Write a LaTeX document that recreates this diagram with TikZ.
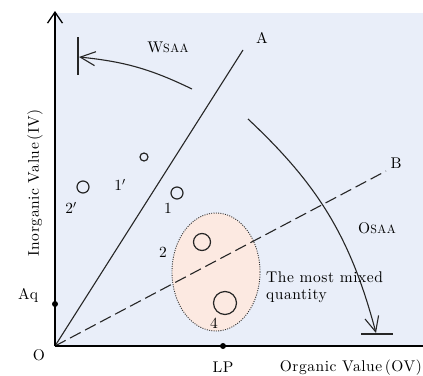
\documentclass[tikz,border=0pt]{standalone}
\usepackage{fontspec}
\usetikzlibrary{arrows.meta,shapes.geometric}
\definecolor{plotbg}{HTML}{E9EEF9}
\definecolor{mixfill}{HTML}{FCE9E1}
\newfontfamily\labelfont{lmroman10-regular.otf}[LetterSpace=3.5]
\begin{document}
\begin{tikzpicture}[x=1pt,y=-1pt]
    \useasboundingbox (0,0) rectangle (423,375);
    \clip (0,0) rectangle (423,375);

    % Stijlen
    \tikzset{
        lbl/.style={font=\labelfont\fontsize{15.5}{17}\selectfont, inner sep=0pt},
        axis/.style={line width=1.8pt, -{Straight Barb[length=11pt,width=15pt,line width=1.3pt]}},
        ray/.style={line width=1.1pt, black!85},
        swing/.style={line width=1.1pt, black!85, -{Straight Barb[length=15pt,width=14pt,line width=1.1pt]}},
        sample/.style={circle, draw=black!85, line width=1.2pt, inner sep=0pt},
        tick/.style={circle, fill=black, inner sep=0pt, minimum size=6pt}
    }

    % Achtergrond
    \fill[plotbg] (55,13) rectangle (423,346);

    % Punten
    \coordinate (o) at (55,346);
    \coordinate (ytop) at (55,11);
    \coordinate (xend) at (436,346);
    \coordinate (aend) at (243,50);
    \coordinate (bEnd) at (386,171);

    % Gemengd gebied
    \node[ellipse, draw=black!80, fill=mixfill, line width=0.9pt,
          dash pattern=on 1pt off 1.3pt, minimum width=88pt, minimum height=118pt]
          (mix) at (216,272) {};

    % Lijnen A en B
    \draw[ray] (o) -- (aend);
    \draw[ray, dash pattern=on 12pt off 5pt] (o) -- (bEnd);
    \node[lbl] (la) at (262,38) {A};
    \node[lbl] (lb) at (396,163) {B};

    % Assen
    \draw[axis] (o) -- (ytop);
    \draw[axis] (o) -- (xend);
    \node[lbl] (lo) at (39,355) {O};
    \node[lbl, rotate=90] (ylab) at (35,183) {Inorganic Value\,(IV)};
    \node[lbl, anchor=east] (xlab) at (422,368) {Organic Value\,(OV)};

    % Aq en LP
    \node[tick] (aq) at (55,304) {};
    \node[tick] (lp) at (223,346) {};
    \node[lbl] (laq) at (28,295) {Aq};
    \node[lbl] (llp) at (223,367) {LP};

    % W_SAA
    \coordinate (wtop) at (78,37);
    \coordinate (wbot) at (78,75);
    \coordinate (w1) at (192,89);
    \coordinate (w2) at (79,57);
    \draw[ray] (wtop) -- (wbot);
    \draw[swing] (w1) to[bend right=10] (w2);
    \node[lbl] (lw) at (168,47) {W{\fontsize{12}{14}\selectfont SAA}};

    % O_SAA
    \coordinate (obl) at (361,334);
    \coordinate (obr) at (393,334);
    \coordinate (o1) at (248,119);
    \coordinate (o2) at (376,333);
    \draw[ray] (obl) -- (obr);
    \draw[swing] (o1) to[bend left=16] (o2);
    \node[lbl] (los) at (377,228) {O{\fontsize{12}{14}\selectfont SAA}};

    % Monsters
    \node[sample, minimum size=8pt] (s1p) at (144,157) {};
    \node[sample, minimum size=12pt] (s2p) at (83,187) {};
    \node[sample, minimum size=12pt] (s1) at (177,193) {};
    \node[sample, minimum size=17pt] (s2) at (202,242) {};
    \node[sample, minimum size=23pt] (s4) at (225,303) {};
    \node[lbl] (l1p) at (120,185) {1$'$};
    \node[lbl] (l2p) at (71,208) {2$'$};
    \node[lbl] (l1) at (168,208) {1};
    \node[lbl] (l2) at (163,252) {2};
    \node[lbl] (l4) at (214,323) {4};

    \node[lbl, anchor=north west, align=left] (lmix) at (266,272) {The most mixed\\quantity};
\end{tikzpicture}
\end{document}
